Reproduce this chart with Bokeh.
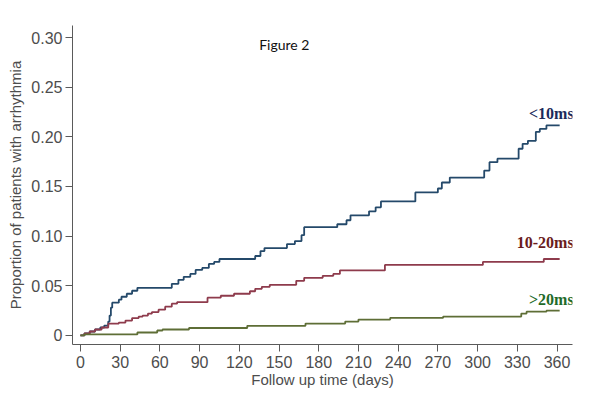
from bokeh.plotting import figure
from bokeh.models import FixedTicker, Label, Range1d, NumeralTickFormatter
from bokeh.embed import file_html
from bokeh.resources import INLINE

# ---- data ----
lt10_days = [0, 3, 7, 11, 15, 18, 21, 22, 23, 24, 29, 31, 35, 39, 43, 69, 74, 78, 83, 87,
             92, 97, 101, 105, 132, 136, 139, 156, 162, 167, 169, 194, 201, 204, 218, 223,
             227, 253, 270, 273, 279, 305, 309, 315, 331, 334, 338, 344, 347, 352, 362]
lt10_vals = [0, .002, .004, .006, .008, .010, .014, .020, .028, .033, .036, .039, .042, .045,
             .048, .052, .056, .059, .062, .066, .068, .072, .074, .077, .080, .085, .088,
             .092, .095, .101, .109, .112, .116, .121, .125, .129, .135, .144, .148, .154,
             .159, .166, .1745, .178, .188, .193, .196, .205, .208, .2115, .2115]

mid_days = [0, 3, 7, 11, 16, 21, 29, 34, 39, 44, 47, 51, 54, 59, 64, 69, 73, 96, 106, 116,
            128, 132, 137, 143, 163, 169, 183, 191, 196, 230, 304, 350, 362]
mid_vals = [0, .002, .004, .006, .008, .012, .013, .015, .0175, .019, .020, .022, .0235, .026,
            .029, .032, .0335, .038, .040, .042, .0445, .047, .049, .051, .055, .058, .060,
            .062, .0655, .071, .074, .077, .077]

gt20_days = [0, 3, 43, 58, 62, 82, 126, 170, 200, 210, 234, 274, 333, 337, 352, 362]
gt20_vals = [0, .001, .003, .005, .006, .0075, .0097, .012, .014, .016, .0178, .019, .022,
             .024, .025, .025]

series_names = ["<10ms", "10-20ms", ">20ms"]
x_ticks = [0, 30, 60, 90, 120, 150, 180, 210, 240, 270, 300, 330, 360]
y_ticks = [0, 0.05, 0.10, 0.15, 0.20, 0.25, 0.30]

line_colors = ["#24496a", "#8e3b4c", "#5e6e36"]
label_colors = ["#1c2a5a", "#6a1c1c", "#1f6b2a"]

p = figure(width=592, height=395, output_backend="svg", toolbar_location=None,
           x_range=Range1d(-6.0, 371.7), y_range=Range1d(-0.0091, 0.3121),
           min_border_left=72, min_border_right=20, min_border_top=25,
           min_border_bottom=51)
p.outline_line_color = None
p.grid.visible = False
p.background_fill_color = "white"
p.border_fill_color = "white"

series = [(lt10_days, lt10_vals), (mid_days, mid_vals), (gt20_days, gt20_vals)]
label_offsets = [3, 8, 3]
for (d, v), col, lcol, name, yo in zip(series, line_colors, label_colors, series_names, label_offsets):
    p.step(d, v, mode="after", line_color=col, line_width=1.8)
    p.add_layout(Label(x=d[-1], y=v[-1], text=name, text_align="right",
                       text_baseline="bottom", x_offset=14, y_offset=yo,
                       text_font="Liberation Serif", text_font_style="bold",
                       text_font_size="16px", text_color=lcol))

p.add_layout(Label(x=135, y=0.293, text="Figure 2", text_font="Lato",
                   text_font_size="14px", text_color="#111111", text_baseline="middle"))

for ax in (p.xaxis, p.yaxis):
    ax.axis_line_color = "#5a5a5a"
    ax.major_tick_line_color = "#5a5a5a"
    ax.minor_tick_line_color = None
    ax.major_tick_in = 0
    ax.major_tick_out = 7
    ax.major_label_text_font = "Liberation Sans"
    ax.major_label_text_font_size = "16px"
    ax.major_label_text_color = "#4d4d4d"
    ax.axis_label_text_font = "Liberation Sans"
    ax.axis_label_text_font_size = "15px"
    ax.axis_label_text_font_style = "normal"
    ax.axis_label_text_color = "#4d4d4d"
    ax.major_label_standoff = 3

p.xaxis.ticker = FixedTicker(ticks=x_ticks)
p.yaxis.ticker = FixedTicker(ticks=y_ticks)
p.yaxis.formatter = NumeralTickFormatter(format="0.00")
p.yaxis.major_label_overrides = {0: "0"}
p.yaxis.major_label_orientation = "horizontal"
p.xaxis.axis_label = "Follow up time (days)"
p.yaxis.axis_label = "Proportion of patients with arrhythmia"
p.xaxis.major_label_standoff = 4
p.xaxis.axis_label_standoff = 0
p.yaxis.axis_label_standoff = 4

open("out.html", "w").write(file_html(p, INLINE))
